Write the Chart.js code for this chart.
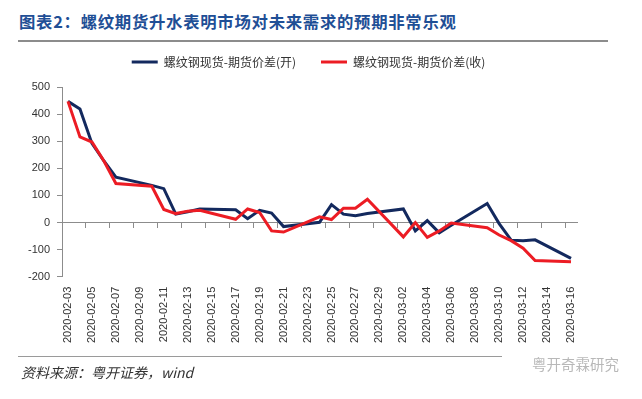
<!DOCTYPE html>
<html>
<head>
<meta charset="utf-8">
<script src="https://cdn.jsdelivr.net/npm/chart.js@4/dist/chart.umd.min.js"></script>
<style>
  html, body { margin: 0; padding: 0; background: #fff; }
  #wrap { position: relative; width: 642px; height: 399px; overflow: hidden; font-family: "Noto Sans CJK SC", sans-serif; }
  #myChart { position: absolute; left: 0; top: 0; }
  .title { position: absolute; left: 19px; top: 8px; font-size: 16.4px; letter-spacing: 0.7px; font-weight: bold; color: #1f4f96; white-space: nowrap; line-height: 26px; }
  .rule-top { position: absolute; left: 18px; top: 40px; width: 590px; height: 2px; background: #8c8c8c; }
  .rule-bottom { position: absolute; left: 18px; top: 356px; width: 484px; height: 1px; background: #9a9a9a; }
  .source { position: absolute; left: 21px; top: 362px; font-size: 14px; font-style: italic; color: #333; white-space: nowrap; line-height: 20px; }
  .mark { position: absolute; left: 532px; top: 354px; font-size: 14.5px; color: #b8b8b8; white-space: nowrap; line-height: 20px; }
</style>
</head>
<body>
<div id="wrap">
  <div class="title">图表2：螺纹期货升水表明市场对未来需求的预期非常乐观</div>
  <div class="rule-top"></div>
  <canvas id="myChart" width="642" height="399"></canvas>
  <div class="rule-bottom"></div>
  <div class="source">资料来源：粤开证券，wind</div>
  <div class="mark">粤开奇霖研究</div>
</div>
<script>
// trading days and spreads (yuan/t)
const tradeDates = [
  '2020-02-03', '2020-02-04', '2020-02-05', '2020-02-06', '2020-02-07',
  '2020-02-10', '2020-02-11', '2020-02-12', '2020-02-13', '2020-02-14',
  '2020-02-17', '2020-02-18', '2020-02-19', '2020-02-20', '2020-02-21',
  '2020-02-24', '2020-02-25', '2020-02-26', '2020-02-27', '2020-02-28',
  '2020-03-02', '2020-03-03', '2020-03-04', '2020-03-05', '2020-03-06',
  '2020-03-09', '2020-03-10', '2020-03-11', '2020-03-12', '2020-03-13',
  '2020-03-16'
];
const openSpread = [
  447, 419, 292, 227, 167,
  137, 125, 31, 40, 50,
  47, 14, 45, 35, -15,
  1, 66, 31, 25, 33,
  50, -31, 7, -38, -10,
  70, -4, -65, -67, -64,
  -132
];
const closeSpread = [
  447, 316, 297, 227, 144,
  134, 48, 33, 42, 45,
  12, 50, 37, -31, -35,
  21, 11, 53, 53, 86,
  -53, 0, -55, -31, -2,
  -19, -46, -67, -95, -140,
  -145
];
const yTicks = { min: -200, max: 500, step: 100 };

// the x axis is a date axis: every calendar day gets a slot
const dayLabels = [];
const last = new Date(tradeDates[tradeDates.length - 1] + 'T00:00:00Z');
for (let d = new Date(tradeDates[0] + 'T00:00:00Z'); d <= last; d.setUTCDate(d.getUTCDate() + 1)) {
  dayLabels.push(d.toISOString().slice(0, 10));
}

const toPoints = (vals) => tradeDates.map((t, i) => ({ x: t, y: vals[i] }));

// taller legend box + nudge it right, like the original
const legendTweak = {
  id: 'legendTweak',
  beforeLayout(chart) {
    const lg = chart.legend;
    if (lg && !lg._patched) {
      const fit = lg.fit;
      lg.fit = function () { fit.call(this); this.height = 56; };
      lg._patched = true;
    }
  },
  afterLayout(chart) {
    const lg = chart.legend;
    if (lg) { lg.left += 20; lg.right += 20; }
  }
};

const axisGray = '#8c8c8c';

new Chart(document.getElementById('myChart').getContext('2d'), {
  type: 'line',
  data: {
    labels: dayLabels,
    datasets: [{
      label: '螺纹钢现货-期货价差(开)',
      data: toPoints(openSpread),
      borderColor: '#13295e',
      backgroundColor: '#13295e',
      borderWidth: 3,
      pointRadius: 0,
      tension: 0,
      order: 1
    }, {
      label: '螺纹钢现货-期货价差(收)',
      data: toPoints(closeSpread),
      borderColor: '#ec1c24',
      backgroundColor: '#ec1c24',
      borderWidth: 3,
      pointRadius: 0,
      tension: 0,
      order: 0
    }]
  },
  options: {
    responsive: false,
    animation: false,
    layout: { padding: { top: 31, left: 0, right: 65, bottom: 46 } },
    plugins: {
      legend: {
        position: 'top',
        labels: {
          usePointStyle: true,
          pointStyle: 'line',
          pointStyleWidth: 26,
          padding: 25,
          color: '#333',
          font: { size: 12, family: 'Noto Sans CJK SC' },
          sort: (a, b) => a.datasetIndex - b.datasetIndex
        }
      },
      tooltip: { enabled: false }
    },
    scales: {
      x: {
        type: 'category',
        position: { y: 0 },
        offset: true,
        ticks: { display: false },
        grid: {
          offset: true,
          drawOnChartArea: false,
          drawTicks: true,
          tickLength: 5,
          color: (ctx) => ctx.index % 2 === 0 ? axisGray : 'rgba(0,0,0,0)'
        },
        border: { color: axisGray, width: 1 }
      },
      x2: {
        type: 'category',
        labels: dayLabels,
        position: 'bottom',
        offset: true,
        grid: { display: false, drawTicks: false },
        border: { display: false },
        ticks: {
          autoSkip: false,
          minRotation: 90,
          maxRotation: 90,
          padding: 10,
          color: '#333',
          font: { size: 11, family: 'Liberation Sans' },
          callback: (v, i) => i % 2 === 0 ? dayLabels[i] : null
        }
      },
      y: {
        min: yTicks.min,
        max: yTicks.max,
        ticks: {
          stepSize: yTicks.step,
          padding: 7,
          color: '#333',
          font: { size: 11, family: 'Liberation Sans' }
        },
        grid: { drawOnChartArea: false, tickLength: 5, color: axisGray },
        border: { color: axisGray },
        afterFit: (s) => { s.width = 62; }
      }
    }
  },
  plugins: [legendTweak]
});
</script>
</body>
</html>
